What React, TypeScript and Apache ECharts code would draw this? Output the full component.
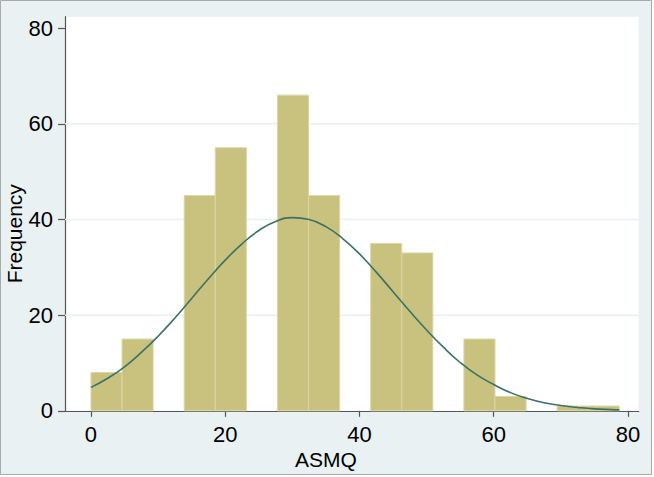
import React, { useEffect, useRef } from "react";
import * as echarts from "echarts";

// Histogram of ASMQ: 17 bins starting at 0, width ~4.63
const binStart = 0;
const binWidth = 4.63;
const counts = [8, 15, 0, 45, 55, 0, 66, 45, 0, 35, 33, 0, 15, 3, 0, 1, 1];

// Normal density curve (scaled to frequency)
const curveX = [0, 2.5, 5, 7.5, 10, 12.5, 15, 17.5, 20, 22.5, 25, 27.5, 30, 32.5, 35, 37.5, 40, 42.5, 45, 47.5, 50, 52.5, 55, 57.5, 60, 62.5, 65, 67.5, 70, 72.5, 75, 77.5, 78.7];
const curveY = [4.9, 6.8, 9.2, 12.2, 15.6, 19.4, 23.5, 27.6, 31.5, 34.9, 37.7, 39.6, 40.4, 40.0, 38.5, 36.0, 32.8, 29.0, 24.9, 20.8, 16.9, 13.3, 10.1, 7.5, 5.5, 3.8, 2.6, 1.7, 1.1, 0.7, 0.4, 0.25, 0.2];

const xTicks = [0, 20, 40, 60, 80];
const yTicks = [0, 20, 40, 60, 80];
const gridLines = [20, 40, 60];

const FONT = "'Liberation Sans', Arial, Helvetica, sans-serif";

export default function App() {
  const ref = useRef<HTMLDivElement>(null);
  useEffect(() => {
    document.body.style.margin = "0";
    const chart = echarts.init(ref.current!, null, { renderer: "svg" });
    const histData = counts.map((c, i) => [binStart + i * binWidth, binStart + (i + 1) * binWidth, c]);
    chart.setOption({
      animation: false,
      backgroundColor: "#ffffff",
      graphic: [
        {
          type: "rect",
          z: -10,
          silent: true,
          shape: { x: 0.5, y: 0.5, width: 651, height: 474 },
          style: { fill: "#e9f1f3", stroke: "#a6abad", lineWidth: 1 },
        },
        {
          type: "rect",
          z: -9,
          silent: true,
          shape: { x: 65, y: 16.7, width: 573.7, height: 394.1 },
          style: { fill: "#ffffff" },
        },
      ],
      grid: {
        left: 65,
        right: 654 - 638.7,
        top: 16.7,
        bottom: 477 - 410.8,
        containLabel: false,
        outerBoundsMode: "none",
      },
      xAxis: {
        type: "value",
        min: -3.87,
        max: 81.6,
        name: "ASMQ",
        nameLocation: "middle",
        nameGap: 38,
        nameMoveOverlap: false,
        nameTextStyle: { fontFamily: FONT, fontSize: 21, color: "#000", padding: [0, 52, 0, 0] },
        axisLine: { show: true, onZero: false, lineStyle: { color: "#555", width: 1.2 } },
        axisTick: { show: true, customValues: xTicks, length: 6, lineStyle: { color: "#555", width: 1.2 } },
        axisLabel: { customValues: xTicks, fontFamily: FONT, fontSize: 22, color: "#000", margin: 13 },
        splitLine: { show: false },
      },
      yAxis: {
        type: "value",
        min: 0,
        max: 82.4,
        name: "Frequency",
        nameLocation: "middle",
        nameGap: 40,
        nameMoveOverlap: false,
        nameTextStyle: { fontFamily: FONT, fontSize: 21, color: "#000", padding: [0, 40, 0, 0] },
        axisLine: { show: true, onZero: false, lineStyle: { color: "#555", width: 1.2 } },
        axisTick: { show: true, customValues: yTicks, length: 7, lineStyle: { color: "#555", width: 1.2 } },
        axisLabel: { customValues: yTicks, fontFamily: FONT, fontSize: 22, color: "#000", margin: 12 },
        splitLine: { show: false },
      },
      series: [
        {
          type: "custom",
          z: 1,
          silent: true,
          data: gridLines.map((v) => [0, v]),
          renderItem: (params: any, api: any) => {
            const cs = params.coordSys;
            const y = api.coord([0, api.value(1)])[1];
            return {
              type: "line",
              shape: { x1: cs.x, y1: y, x2: cs.x + cs.width, y2: y },
              style: { stroke: "#eaf0f1", lineWidth: 1.5 },
            };
          },
        },
        {
          type: "custom",
          z: 3,
          silent: true,
          data: histData,
          renderItem: (params: any, api: any) => {
            const x0 = api.value(0);
            const x1 = api.value(1);
            const c = api.value(2);
            if (!c) return null;
            const p0 = api.coord([x0, c]);
            const p1 = api.coord([x1, 0]);
            return {
              type: "rect",
              shape: { x: p0[0], y: p0[1], width: p1[0] - p0[0], height: p1[1] - p0[1] },
              style: { fill: "#c9c17e", stroke: "#dcd6a6", lineWidth: 1 },
            };
          },
        },
        {
          type: "line",
          z: 5,
          silent: true,
          smooth: true,
          symbol: "none",
          data: curveX.map((x, i) => [x, curveY[i]]),
          lineStyle: { color: "#3b7266", width: 1.6 },
        },
      ],
    });
    return () => chart.dispose();
  }, []);
  return <div ref={ref} style={{ position: "fixed", left: 0, top: 0, width: 654, height: 477 }} />;
}
